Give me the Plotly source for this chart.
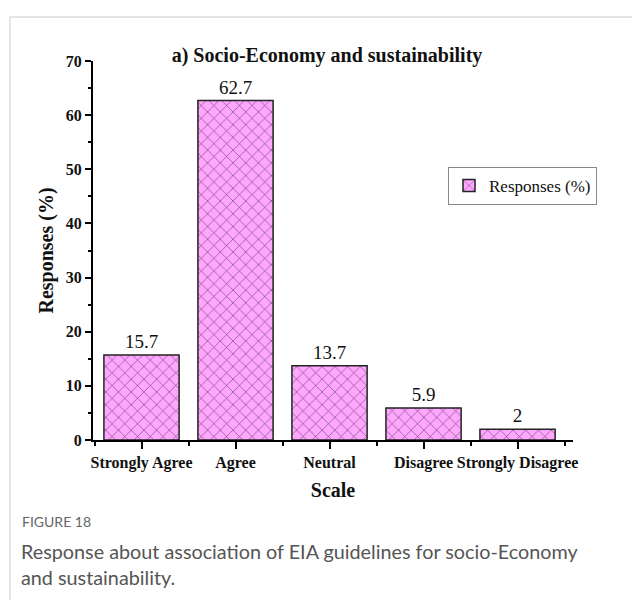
import plotly.graph_objects as go

categories = ["Strongly Agree", "Agree", "Neutral", "Disagree", "Strongly Disagree"]
values = [15.7, 62.7, 13.7, 5.9, 2]
value_labels = ["15.7", "62.7", "13.7", "5.9", "2"]
y_ticks = [0, 10, 20, 30, 40, 50, 60, 70]

SERIF = "Liberation Serif, Times New Roman, serif"
SANS = "Lato, Open Sans, sans-serif"

W, H = 632, 592
L, T, PW, PH = 85, 53, 480, 379
R, B = W - L - PW, H - T - PH

def px(x):  # screen pixel x -> paper
    return (x - 8 - L) / PW

def py(y):  # screen pixel y -> paper
    return (T + PH - (y - 8)) / PH

fig = go.Figure()
fig.add_trace(go.Bar(
    x=categories, y=values, text=value_labels, textposition="outside",
    textfont=dict(family=SERIF, size=19, color="#111"),
    cliponaxis=False, width=0.8, name="Responses (%)", showlegend=True,
    marker=dict(color="#FFA6FF", line=dict(color="#222", width=1.5),
                pattern=dict(shape="x", size=9, solidity=0.12, fgcolor="#55305a",
                             fillmode="overlay", fgopacity=0.95)),
))

fig.update_layout(
    width=W, height=H,
    margin=dict(l=L, r=R, t=T, b=B, pad=0),
    paper_bgcolor="white", plot_bgcolor="white",
    title=dict(text="<b>a) Socio-Economy and sustainability</b>", x=(327 - 8) / W, xanchor="center",
               y=1 - (55 - 8) / H, yanchor="middle",
               font=dict(family=SERIF, size=20, color="#111")),
    legend=dict(x=px(448), y=py(167), xanchor="left", yanchor="top",
                bordercolor="#888", borderwidth=1, bgcolor="white",
                font=dict(family=SERIF, size=17, color="#111")),
    xaxis=dict(range=[-0.516, 4.59], showline=True, linecolor="black", linewidth=2,
               tickangle=0, automargin=False,
               ticks="outside", ticklen=7, tickwidth=2, tickcolor="black",
               tickfont=dict(family=SERIF, size=16, color="#111", weight="bold"),
               minor=dict(ticks="outside", ticklen=4, tickwidth=2, tickcolor="black",
                          tickvals=[-0.5, 0.5, 1.5, 2.5, 3.5, 4.5]),
               title=dict(text="<b>Scale</b>", font=dict(family=SERIF, size=20, color="#111"), standoff=12),
               showgrid=False, zeroline=False),
    yaxis=dict(range=[0, 70], tickvals=y_ticks, showline=True, linecolor="black", linewidth=2,
               automargin=False,
               ticks="outside", ticklen=6, tickwidth=2, tickcolor="black",
               tickfont=dict(family=SERIF, size=16, color="#111", weight="bold"),
               minor=dict(ticks="outside", ticklen=3, tickwidth=2, tickcolor="black", dtick=5),
               title=dict(text="<b>Responses (%)</b>", font=dict(family=SERIF, size=20, color="#111"), standoff=7),
               showgrid=False, zeroline=False),
)

# figure frame (light gray border)
fig.add_shape(type="line", xref="paper", yref="paper",
              x0=px(10), x1=px(648), y0=py(17), y1=py(17),
              line=dict(color="#cccccc", width=1))
fig.add_shape(type="line", xref="paper", yref="paper",
              x0=px(10), x1=px(10), y0=py(17), y1=py(610),
              line=dict(color="#cccccc", width=1))

fig.add_annotation(text="FIGURE 18", xref="paper", yref="paper",
                   x=px(20), y=py(521), xanchor="left", yanchor="middle",
                   showarrow=False, font=dict(family=SANS, size=14, color="#666"))
fig.add_annotation(text="Response about association of EIA guidelines for socio-Economy<br>and sustainability.",
                   xref="paper", yref="paper", align="left",
                   x=px(19), y=py(563.5), xanchor="left", yanchor="middle",
                   showarrow=False, font=dict(family=SANS, size=19.8, color="#555"))

fig.write_html("out.html")
